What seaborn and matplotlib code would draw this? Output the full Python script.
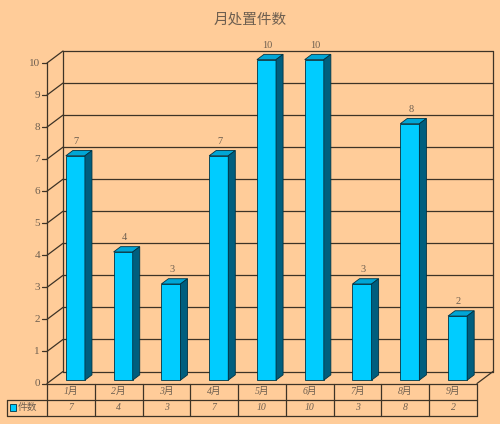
import pandas as pd
import matplotlib.pyplot as plt
from matplotlib.patches import Polygon, Rectangle
import seaborn as sns

# 数据
months = ['1月', '2月', '3月', '4月', '5月', '6月', '7月', '8月', '9月']
counts = [7, 4, 3, 7, 10, 10, 3, 8, 2]
series_name = '件数'
title = '月处置件数'
y_ticks = list(range(0, 11))

BG = '#FFCC99'
FRONT = '#00CCFF'
TOP = '#00A6D6'
SIDE = '#005E7E'
EDGE = '#003344'
GRID = '#3d3326'
TEXT = '#6e5f50'

sns.set_style('white')
plt.rcParams['font.family'] = ['Liberation Serif', 'Noto Sans CJK SC', 'DejaVu Sans']

W, H = 500, 424
fig = plt.figure(figsize=(W / 100, H / 100), dpi=100, facecolor=BG)
ax = fig.add_axes([0, 0, 1, 1])

df = pd.DataFrame({'month': months, 'count': counts})
sns.barplot(data=df, x='month', y='count', color=FRONT, width=0.4, saturation=1,
            edgecolor=EDGE, linewidth=0.6, ax=ax, zorder=3)

n = len(months)
ymax = max(y_ticks)
px_x = 430 / n          # 每个类别的像素宽度
px_y = 320.5 / ymax     # 每单位的像素高度
DX, DY = 16 / px_x, 12 / px_y       # 3D 深度
x0, x1 = -0.5, n - 0.5

# 背景墙和网格
for k in y_ticks:
    ax.plot([x0 + DX, x1 + DX], [k + DY, k + DY], color=GRID, lw=0.9, zorder=1)
    ax.plot([x0, x0 + DX], [k, k + DY], color=GRID, lw=0.9, zorder=1)
    ax.plot([x0 - 5 / px_x, x0], [k, k], color=GRID, lw=0.9, zorder=1)
    ax.text(x0 - 7 / px_x, k, str(k), ha='right', va='center', fontsize=8, color=TEXT)
ax.plot([x0 + DX] * 2, [DY, ymax + DY], color=GRID, lw=0.9, zorder=1)
ax.plot([x1 + DX] * 2, [DY, ymax + DY], color=GRID, lw=0.9, zorder=1)
ax.plot([x0, x0], [0, ymax], color=GRID, lw=0.9, zorder=1)
ax.plot([x1, x1 + DX], [0, DY], color=GRID, lw=0.9, zorder=1)

# 立体柱子
off_x, off_y = 0.28 * DX, 0.28 * DY
bdx, bdy = 0.44 * DX, 0.44 * DY
for p, v in zip(ax.patches, counts):
    bx = p.get_x() + off_x
    w = p.get_width()
    p.set_x(bx)
    p.set_y(off_y)
    top = [(bx, off_y + v), (bx + w, off_y + v),
           (bx + w + bdx, off_y + v + bdy), (bx + bdx, off_y + v + bdy)]
    side = [(bx + w, off_y), (bx + w + bdx, off_y + bdy),
            (bx + w + bdx, off_y + v + bdy), (bx + w, off_y + v)]
    ax.add_patch(Polygon(top, closed=True, facecolor=TOP, edgecolor=EDGE, lw=0.6, zorder=4))
    ax.add_patch(Polygon(side, closed=True, facecolor=SIDE, edgecolor=EDGE, lw=0.6, zorder=4))
    ax.text(bx + w / 2 + 1 / px_x, v + DY + 6 / px_y, str(v), ha='center', va='center',
            fontsize=7.5, color=TEXT, zorder=5)

# 数据表
R = 16 / px_y
LX = x0 - 40 / px_x
ax.plot([x0, x1], [0, 0], color=GRID, lw=0.9)
ax.plot([LX, x1], [-R, -R], color=GRID, lw=0.9)
ax.plot([LX, x1], [-2 * R, -2 * R], color=GRID, lw=0.9)
for i in range(n + 1):
    ax.plot([x0 + i] * 2, [-2 * R, 0], color=GRID, lw=0.9)
ax.plot([LX] * 2, [-2 * R, -R], color=GRID, lw=0.9)
for i, (m, v) in enumerate(zip(months, counts)):
    ax.text(i, -R / 2, m, ha='center', va='center', fontsize=7, style='italic', color=TEXT)
    ax.text(i, -1.5 * R, str(v), ha='center', va='center', fontsize=7, style='italic', color=TEXT)
ax.add_patch(Rectangle((LX + 2.5 / px_x, -1.5 * R - 3.5 / px_y), 7 / px_x, 7 / px_y,
                       facecolor=FRONT, edgecolor=EDGE, lw=0.6))
ax.text(LX + 11 / px_x, -1.5 * R, series_name, ha='left', va='center', fontsize=7,
        style='italic', color=TEXT)

fig.text(0.5, 1 - 20 / H, title, ha='center', va='center', fontsize=10.5, color=TEXT,
         family=['Noto Sans CJK SC'])

ax.set_xlim(x0 - 47 / px_x, x1 + (W - 477) / px_x)
ax.set_ylim(-(H - 383.5) / px_y, ymax + 63 / px_y)
ax.set_axis_off()

fig.savefig('out.png', dpi=100, facecolor=BG)
